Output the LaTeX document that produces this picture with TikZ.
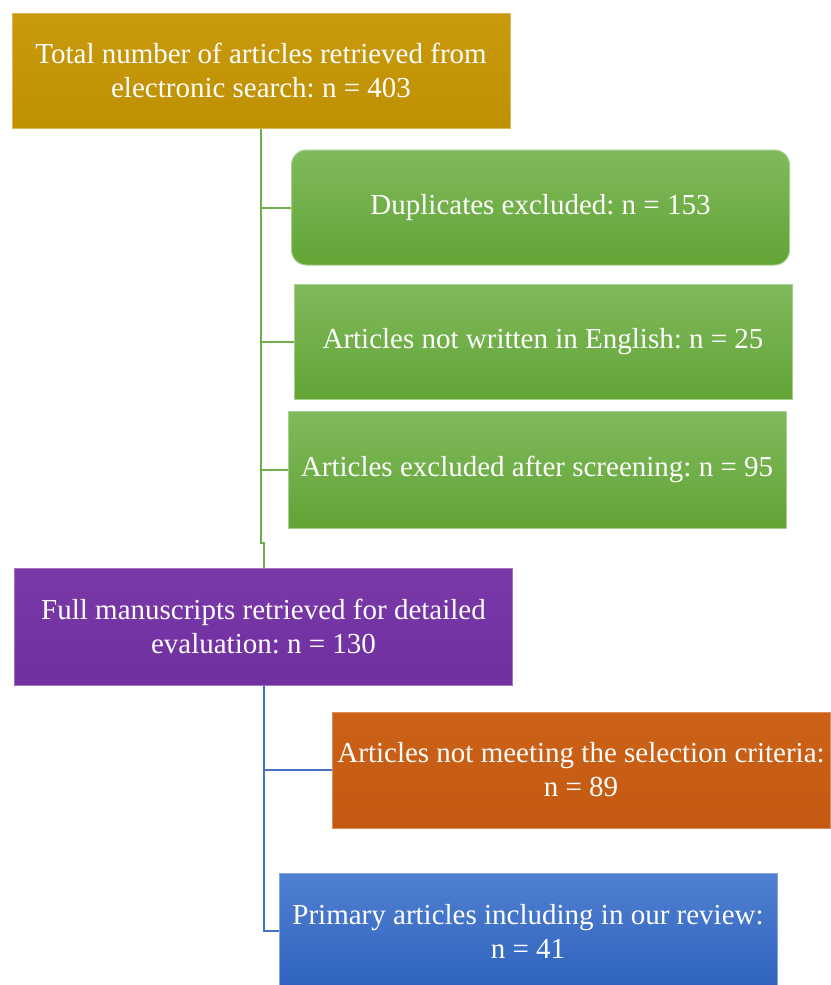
\documentclass[tikz,border=0pt]{standalone}
\usepackage{fontspec}
\setmainfont{Liberation Serif}
\frenchspacing
\usetikzlibrary{calc}
\definecolor{goldA}{HTML}{C99A0E}
\definecolor{goldB}{HTML}{BF9000}
\definecolor{greenA}{HTML}{80BA5C}
\definecolor{greenB}{HTML}{62A436}
\definecolor{greenL}{HTML}{70AD47}
\definecolor{purpA}{HTML}{7A38A8}
\definecolor{purpB}{HTML}{7030A0}
\definecolor{oranA}{HTML}{CC6218}
\definecolor{oranB}{HTML}{C45911}
\definecolor{blueA}{HTML}{5080D0}
\definecolor{blueB}{HTML}{2E62BE}
\definecolor{blueL}{HTML}{4472C4}
\tikzset{
  box/.style={rectangle, minimum width=498pt, minimum height=115pt,
    align=center, text=white, inner sep=0pt,
    font=\fontsize{29}{34}\selectfont},
  goldbox/.style={box, top color=goldA, bottom color=goldB, draw=goldA!70!white, line width=1pt},
  greenbox/.style={box, top color=greenA, bottom color=greenB, draw=greenA!70!white, line width=1pt},
  purpbox/.style={box, top color=purpA, bottom color=purpB, draw=purpA!70!white, line width=1pt},
  oranbox/.style={box, top color=oranA, bottom color=oranB, draw=oranA!70!white, line width=1pt},
  bluebox/.style={box, top color=blueA, bottom color=blueB, draw=blueA!70!white, line width=1pt},
  gline/.style={draw=greenL, line width=2pt},
  bline/.style={draw=blueL, line width=2pt}
}
\begin{document}
\begin{tikzpicture}[x=1pt,y=-1pt]
\useasboundingbox (0,0) rectangle (830,985);
\node[goldbox] (gold) at (261,70.5) {Total number of articles retrieved from\\electronic search: n = 403};
\node[greenbox, rounded corners=15pt] (g1) at (540.5,207.5) {Duplicates excluded: n = 153};
\node[greenbox] (g2) at (543,341.5) {Articles not written in English: n = 25};
\node[greenbox, minimum height=117pt] (g3) at (537,469.5) {Articles excluded after screening: n = 95};
\node[purpbox, minimum height=117pt] (purple) at (263.5,626.5) {Full manuscripts retrieved for detailed\\evaluation: n = 130};
\node[oranbox, minimum height=116pt] (orange) at (581,770) {Articles not meeting the selection criteria:\\n = 89};
\node[bluebox, minimum height=116pt] (blue) at (528,931) {Primary articles including in our review:\\n = 41};
\coordinate (j) at (261,543);
\draw[gline] (gold.south) |- (g1.west);
\draw[gline] (gold.south) |- (g2.west);
\draw[gline] (gold.south) |- (g3.west);
\draw[gline] (gold.south) -- (j) -- (j -| purple.north) -- (purple.north);
\draw[bline] (purple.south) |- (orange.west);
\draw[bline] (purple.south) |- (blue.west);
\end{tikzpicture}
\end{document}
